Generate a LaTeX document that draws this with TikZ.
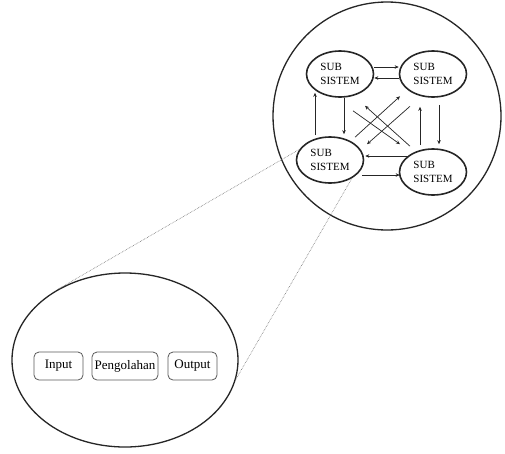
\documentclass[tikz,border=0pt]{standalone}
\usepackage{fontspec}
\setmainfont{Liberation Serif}
\usetikzlibrary{shapes.geometric,arrows.meta}
\definecolor{ink}{HTML}{262626}
\definecolor{boxline}{HTML}{5A5A5A}
\definecolor{dotline}{HTML}{6E6E6E}
\begin{document}
\begin{tikzpicture}[x=1pt,y=-1pt,
  sub/.style={ellipse,draw=ink,line width=1.6pt,minimum width=67pt,minimum height=46pt,
    inner sep=0pt,align=left,font=\fontsize{11}{14}\selectfont,text=black},
  arr/.style={draw=ink,line width=0.7pt,-{Stealth[length=4pt,width=3.5pt]}},
  bigring/.style={circle,draw=ink,line width=1.3pt,minimum size=228pt,inner sep=0pt},
  zoomring/.style={ellipse,draw=ink,line width=1.3pt,minimum width=226pt,minimum height=174pt,inner sep=0pt},
  procbox/.style={draw=boxline,line width=0.8pt,rounded corners=5pt,minimum height=28pt,
    inner sep=0pt,font=\fontsize{13}{15}\selectfont,text=black},
  dotlink/.style={draw=dotline,line width=0.6pt,densely dotted}
]
\useasboundingbox[fill=white] (0,0) rectangle (505,453);

% big system circle and subsystems
\node[bigring] (sys) at (387,116) {};
\node[sub] (tl) at (340,74) {SUB\\SISTEM};
\node[sub] (tr) at (433,74) {SUB\\SISTEM};
\node[sub] (bl) at (330,160) {SUB\\SISTEM};
\node[sub] (br) at (433,172) {SUB\\SISTEM};

% top pair
\draw[arr] ([yshift=7pt]tl.east) -- ([yshift=7pt]tr.west);
\draw[arr] ([yshift=-4pt]tr.west) -- ([yshift=-4pt]tl.east);
% bottom pair
\draw[arr] ([xshift=9pt,yshift=16pt]br.west) -- ([xshift=1pt,yshift=4pt]bl.east);
\draw[arr] ([xshift=-2pt,yshift=-15pt]bl.east) -- ([xshift=1pt,yshift=-3pt]br.west);
% left pair
\draw[arr] ([xshift=-15pt,yshift=1pt]bl.north) -- ([xshift=-25pt,yshift=5pt]tl.south);
\draw[arr] ([xshift=4pt]tl.south) -- ([xshift=14pt,yshift=2pt]bl.north);
% right pair
\draw[arr] ([xshift=-13pt,yshift=3pt]br.north) -- ([xshift=-13pt,yshift=-9pt]tr.south);
\draw[arr] ([xshift=6pt,yshift=-7pt]tr.south) -- ([xshift=6pt,yshift=4pt]br.north);
% diagonals
\draw[arr] ([xshift=13pt,yshift=-13pt]tl.south) -- ([xshift=-33pt,yshift=4pt]br.north);
\draw[arr] ([xshift=-23pt,yshift=2pt]br.north) -- ([xshift=25pt,yshift=-8pt]tl.south);
\draw[arr] ([xshift=25pt,yshift=-1pt]bl.north) -- ([xshift=-33pt,yshift=1.5pt]tr.south);
\draw[arr] ([xshift=-23pt,yshift=-8.5pt]tr.south) -- ([xshift=37pt,yshift=-8pt]bl.north);

% zoomed subsystem
\node[zoomring] (zoom) at (125,360) {};
\node[procbox,minimum width=49pt] (in) at (58.5,366) {Input};
\node[procbox,minimum width=66pt] (proc) at (125,366) {Pengolahan};
\node[procbox,minimum width=49pt] (out) at (192.5,366) {Output};

% dotted zoom lines
\draw[dotlink] (zoom.134) -- (bl.161);
\draw[dotlink] (zoom.-10) -- (bl.-40);
\end{tikzpicture}
\end{document}
